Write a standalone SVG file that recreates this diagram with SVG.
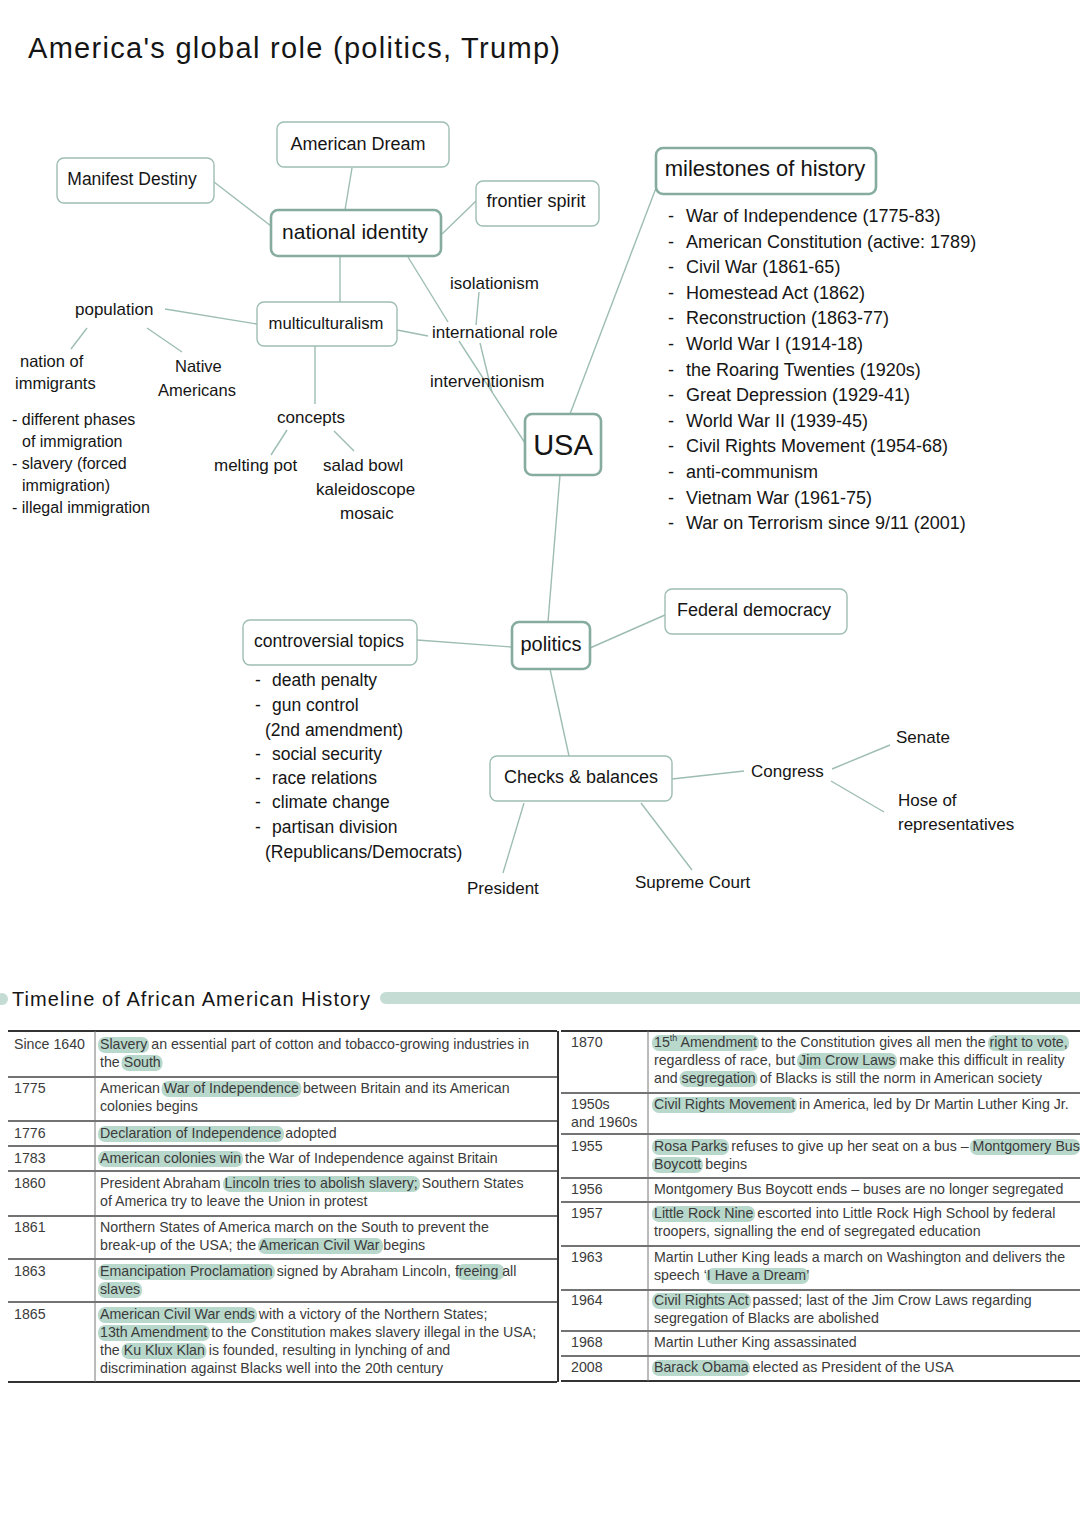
<svg xmlns="http://www.w3.org/2000/svg" width="1080" height="1527" viewBox="0 0 1080 1527">
<style>
.bg{fill:#fff}
.n{fill:#fff;stroke:#9dbdb3;stroke-width:1.4}
.nm{fill:#fff;stroke:#86ab9f;stroke-width:2.6}
.c{stroke:#9dbdb3;stroke-width:1.4;fill:none}
.h{font-family:"Liberation Sans",Arial,sans-serif;fill:#151515}
.mid{text-anchor:middle}
.t{font-family:"Liberation Sans",Arial,sans-serif;font-size:14.2px;fill:#3b3b3b}
.hl{fill:#b9d8cc}
.ln{stroke:#454545;stroke-width:1.3}
.lt{stroke:#333;stroke-width:2}
.vl{stroke:#777;stroke-width:1}
</style>
<rect class="bg" x="0" y="0" width="1080" height="1527"/>
<text class="h" x="28" y="58" font-size="29" textLength="532" lengthAdjust="spacing">America's global role (politics, Trump)</text>

<g id="connectors">
<line class="c" x1="214" y1="182" x2="271" y2="226"/>
<line class="c" x1="352" y1="168" x2="345" y2="210"/>
<line class="c" x1="476" y1="201" x2="442" y2="234"/>
<line class="c" x1="340" y1="256" x2="340" y2="302"/>
<line class="c" x1="408" y1="257" x2="448" y2="322"/>
<line class="c" x1="479" y1="292" x2="476" y2="325"/>
<line class="c" x1="397" y1="330" x2="428" y2="336"/>
<line class="c" x1="459" y1="341" x2="525" y2="443"/>
<line class="c" x1="480" y1="343" x2="492" y2="392"/>
<line class="c" x1="165" y1="309" x2="257" y2="324"/>
<line class="c" x1="87" y1="328" x2="71" y2="349"/>
<line class="c" x1="147" y1="328" x2="182" y2="352"/>
<line class="c" x1="315" y1="346" x2="315" y2="404"/>
<line class="c" x1="287" y1="430" x2="271" y2="455"/>
<line class="c" x1="334" y1="431" x2="354" y2="451"/>
<line class="c" x1="570" y1="414" x2="656" y2="188"/>
<line class="c" x1="560" y1="475" x2="548" y2="622"/>
<line class="c" x1="512" y1="647" x2="417" y2="640"/>
<line class="c" x1="590" y1="648" x2="665" y2="615"/>
<line class="c" x1="550" y1="669" x2="569" y2="756"/>
<line class="c" x1="672" y1="779" x2="744" y2="771"/>
<line class="c" x1="832" y1="769" x2="890" y2="745"/>
<line class="c" x1="831" y1="781" x2="884" y2="812"/>
<line class="c" x1="524" y1="803" x2="503" y2="873"/>
<line class="c" x1="641" y1="803" x2="692" y2="870"/>
</g>

<g id="american-dream"><rect class="n" x="277" y="122" width="172" height="45" rx="7"/><text class="h mid" x="358" y="150" font-size="18">American Dream</text></g>
<g id="manifest-destiny"><rect class="n" x="57" y="158" width="157" height="45" rx="7"/><text class="h mid" x="132" y="185" font-size="17.5">Manifest Destiny</text></g>
<g id="national-identity"><rect class="nm" x="271" y="210" width="170" height="46" rx="7"/><text class="h mid" x="355" y="239" font-size="21">national identity</text></g>
<g id="frontier-spirit"><rect class="n" x="476" y="181" width="123" height="45" rx="7"/><text class="h mid" x="536" y="207" font-size="18">frontier spirit</text></g>
<g id="milestones"><rect class="nm" x="656" y="148" width="220" height="46" rx="7"/><text class="h mid" x="765" y="176" font-size="22">milestones of history</text>
<g class="h" font-size="18">
<text x="668" y="222">-</text><text x="686" y="222">War of Independence (1775-83)</text>
<text x="668" y="248">-</text><text x="686" y="248">American Constitution (active: 1789)</text>
<text x="668" y="273">-</text><text x="686" y="273">Civil War (1861-65)</text>
<text x="668" y="299">-</text><text x="686" y="299">Homestead Act (1862)</text>
<text x="668" y="324">-</text><text x="686" y="324">Reconstruction (1863-77)</text>
<text x="668" y="350">-</text><text x="686" y="350">World War I (1914-18)</text>
<text x="668" y="376">-</text><text x="686" y="376">the Roaring Twenties (1920s)</text>
<text x="668" y="401">-</text><text x="686" y="401">Great Depression (1929-41)</text>
<text x="668" y="427">-</text><text x="686" y="427">World War II (1939-45)</text>
<text x="668" y="452">-</text><text x="686" y="452">Civil Rights Movement (1954-68)</text>
<text x="668" y="478">-</text><text x="686" y="478">anti-communism</text>
<text x="668" y="504">-</text><text x="686" y="504">Vietnam War (1961-75)</text>
<text x="668" y="529">-</text><text x="686" y="529">War on Terrorism since 9/11 (2001)</text>
</g></g>
<g id="multiculturalism"><rect class="n" x="257" y="302" width="140" height="44" rx="7"/><text class="h mid" x="326" y="329" font-size="16.7">multiculturalism</text></g>
<g id="usa"><rect class="nm" x="525" y="414" width="76" height="61" rx="7"/><text class="h mid" x="563" y="455" font-size="29">USA</text></g>
<g id="politics"><rect class="nm" x="512" y="622" width="78" height="47" rx="7"/><text class="h mid" x="551" y="651" font-size="20">politics</text></g>
<g id="federal-democracy"><rect class="n" x="665" y="589" width="182" height="45" rx="7"/><text class="h mid" x="754" y="616" font-size="18">Federal democracy</text></g>
<g id="controversial-topics"><rect class="n" x="243" y="620" width="174" height="45" rx="7"/><text class="h mid" x="329" y="647" font-size="17.5">controversial topics</text>
<g class="h" font-size="17.5">
<text x="255" y="686">-</text><text x="272" y="686">death penalty</text>
<text x="255" y="711">-</text><text x="272" y="711">gun control</text>
<text x="265" y="736">(2nd amendment)</text>
<text x="255" y="760">-</text><text x="272" y="760">social security</text>
<text x="255" y="784">-</text><text x="272" y="784">race relations</text>
<text x="255" y="808">-</text><text x="272" y="808">climate change</text>
<text x="255" y="833">-</text><text x="272" y="833">partisan division</text>
<text x="265" y="858">(Republicans/Democrats)</text>
</g></g>
<g id="checks-balances"><rect class="n" x="490" y="756" width="182" height="45" rx="7"/><text class="h mid" x="581" y="783" font-size="18">Checks &amp; balances</text></g>

<g id="isolationism"><text class="h" x="450" y="289" font-size="17">isolationism</text></g>
<g id="international-role"><text class="h" x="432" y="338" font-size="17">international role</text></g>
<g id="interventionism"><text class="h" x="430" y="387" font-size="17">interventionism</text></g>
<g id="population"><text class="h" x="75" y="315" font-size="17">population</text></g>
<g id="nation-of-immigrants"><text class="h" x="20" y="367" font-size="16.5">nation of</text><text class="h" x="15" y="389" font-size="16.5">immigrants</text>
<g class="h" font-size="16">
<text x="12" y="425">- different phases</text>
<text x="22" y="447">of immigration</text>
<text x="12" y="469">- slavery (forced</text>
<text x="22" y="491">immigration)</text>
<text x="12" y="513">- illegal immigration</text>
</g></g>
<g id="native-americans"><text class="h" x="175" y="372" font-size="16.5">Native</text><text class="h" x="158" y="396" font-size="16.5">Americans</text></g>
<g id="concepts"><text class="h" x="277" y="423" font-size="17">concepts</text></g>
<g id="melting-pot"><text class="h" x="214" y="471" font-size="17">melting pot</text></g>
<g id="salad-bowl"><text class="h" x="323" y="471" font-size="17">salad bowl</text><text class="h" x="316" y="495" font-size="17">kaleidoscope</text><text class="h" x="340" y="519" font-size="17">mosaic</text></g>
<g id="congress"><text class="h" x="751" y="777" font-size="17">Congress</text></g>
<g id="senate"><text class="h" x="896" y="743" font-size="17">Senate</text></g>
<g id="house"><text class="h" x="898" y="806" font-size="17">Hose of</text><text class="h" x="898" y="830" font-size="17">representatives</text></g>
<g id="president"><text class="h" x="467" y="894" font-size="17">President</text></g>
<g id="supreme-court"><text class="h" x="635" y="888" font-size="17">Supreme Court</text></g>

<g id="timeline-header">
<circle cx="2" cy="999" r="6" fill="#c5dcd5"/>
<text class="h" x="12" y="1006" font-size="20" textLength="358" lengthAdjust="spacing">Timeline of African American History</text>
<rect x="380" y="992" width="710" height="12" rx="6" fill="#c5dcd5"/>
</g>

<g id="highlights">
<rect class="hl" x="98" y="1037" width="51" height="16" rx="7"/>
<rect class="hl" x="121.5" y="1055" width="41" height="16" rx="7"/>
<rect class="hl" x="161.5" y="1081" width="140" height="16" rx="7"/>
<rect class="hl" x="98" y="1126" width="186" height="16" rx="7"/>
<rect class="hl" x="98" y="1151" width="145" height="16" rx="7"/>
<rect class="hl" x="223" y="1176" width="197" height="16" rx="7"/>
<rect class="hl" x="258" y="1238" width="125" height="16" rx="7"/>
<rect class="hl" x="98" y="1264" width="177" height="16" rx="7"/>
<rect class="hl" x="456.5" y="1264" width="48" height="16" rx="7"/>
<rect class="hl" x="98" y="1282" width="44" height="16" rx="7"/>
<rect class="hl" x="98" y="1307" width="159" height="16" rx="7"/>
<rect class="hl" x="98" y="1325" width="112" height="16" rx="7"/>
<rect class="hl" x="121.5" y="1343" width="85" height="16" rx="7"/>
<rect class="hl" x="652" y="1035" width="107" height="16" rx="7"/>
<rect class="hl" x="988" y="1035" width="81" height="16" rx="7"/>
<rect class="hl" x="797" y="1053" width="100" height="16" rx="7"/>
<rect class="hl" x="679.5" y="1071" width="78" height="16" rx="7"/>
<rect class="hl" x="652" y="1097" width="145" height="16" rx="7"/>
<rect class="hl" x="652" y="1139" width="77" height="16" rx="7"/>
<rect class="hl" x="970" y="1139" width="110" height="16" rx="7"/>
<rect class="hl" x="652" y="1157" width="51" height="16" rx="7"/>
<rect class="hl" x="652" y="1206" width="103" height="16" rx="7"/>
<rect class="hl" x="706" y="1268" width="103" height="16" rx="7"/>
<rect class="hl" x="652" y="1293" width="99" height="16" rx="7"/>
<rect class="hl" x="652" y="1360" width="98" height="16" rx="7"/>
</g>

<g id="table-lines">
<line class="lt" x1="8" y1="1031" x2="557" y2="1031"/>
<line class="ln" x1="8" y1="1077" x2="557" y2="1077"/>
<line class="ln" x1="8" y1="1121" x2="557" y2="1121"/>
<line class="ln" x1="8" y1="1146" x2="557" y2="1146"/>
<line class="ln" x1="8" y1="1171" x2="557" y2="1171"/>
<line class="ln" x1="8" y1="1216" x2="557" y2="1216"/>
<line class="ln" x1="8" y1="1259" x2="557" y2="1259"/>
<line class="ln" x1="8" y1="1302" x2="557" y2="1302"/>
<line class="lt" x1="8" y1="1382" x2="557" y2="1382"/>
<line class="vl" x1="95" y1="1031" x2="95" y2="1382"/>
<line class="lt" x1="558" y1="1031" x2="558" y2="1382"/>
<line class="lt" x1="561" y1="1031" x2="1080" y2="1031"/>
<line class="ln" x1="561" y1="1093" x2="1080" y2="1093"/>
<line class="ln" x1="561" y1="1134" x2="1080" y2="1134"/>
<line class="ln" x1="561" y1="1178" x2="1080" y2="1178"/>
<line class="ln" x1="561" y1="1202" x2="1080" y2="1202"/>
<line class="ln" x1="561" y1="1246" x2="1080" y2="1246"/>
<line class="ln" x1="561" y1="1290" x2="1080" y2="1290"/>
<line class="ln" x1="561" y1="1331" x2="1080" y2="1331"/>
<line class="ln" x1="561" y1="1356" x2="1080" y2="1356"/>
<line class="lt" x1="561" y1="1381" x2="1080" y2="1381"/>
<line class="vl" x1="648" y1="1031" x2="648" y2="1381"/>
</g>

<g id="table-left" class="t">
<text x="14" y="1049">Since 1640</text>
<text x="100" y="1049">Slavery an essential part of cotton and tobacco-growing industries in</text>
<text x="100" y="1067">the South</text>
<text x="14" y="1093">1775</text>
<text x="100" y="1093">American War of Independence between Britain and its American</text>
<text x="100" y="1111">colonies begins</text>
<text x="14" y="1138">1776</text>
<text x="100" y="1138">Declaration of Independence adopted</text>
<text x="14" y="1163">1783</text>
<text x="100" y="1163">American colonies win the War of Independence against Britain</text>
<text x="14" y="1188">1860</text>
<text x="100" y="1188">President Abraham Lincoln tries to abolish slavery; Southern States</text>
<text x="100" y="1206">of America try to leave the Union in protest</text>
<text x="14" y="1232">1861</text>
<text x="100" y="1232">Northern States of America march on the South to prevent the</text>
<text x="100" y="1250">break-up of the USA; the American Civil War begins</text>
<text x="14" y="1276">1863</text>
<text x="100" y="1276">Emancipation Proclamation signed by Abraham Lincoln, freeing all</text>
<text x="100" y="1294">slaves</text>
<text x="14" y="1319">1865</text>
<text x="100" y="1319">American Civil War ends with a victory of the Northern States;</text>
<text x="100" y="1337">13th Amendment to the Constitution makes slavery illegal in the USA;</text>
<text x="100" y="1355">the Ku Klux Klan is founded, resulting in lynching of and</text>
<text x="100" y="1373">discrimination against Blacks well into the 20th century</text>
</g>

<g id="table-right" class="t">
<text x="571" y="1047">1870</text>
<text x="654" y="1047">15<tspan font-size="9" dy="-6">th</tspan><tspan dy="6"> Amendment to the Constitution gives all men the right to vote,</tspan></text>
<text x="654" y="1065">regardless of race, but Jim Crow Laws make this difficult in reality</text>
<text x="654" y="1083">and segregation of Blacks is still the norm in American society</text>
<text x="571" y="1109">1950s</text>
<text x="571" y="1127">and 1960s</text>
<text x="654" y="1109">Civil Rights Movement in America, led by Dr Martin Luther King Jr.</text>
<text x="571" y="1151">1955</text>
<text x="654" y="1151">Rosa Parks refuses to give up her seat on a bus – Montgomery Bus</text>
<text x="654" y="1169">Boycott begins</text>
<text x="571" y="1194">1956</text>
<text x="654" y="1194">Montgomery Bus Boycott ends – buses are no longer segregated</text>
<text x="571" y="1218">1957</text>
<text x="654" y="1218">Little Rock Nine escorted into Little Rock High School by federal</text>
<text x="654" y="1236">troopers, signalling the end of segregated education</text>
<text x="571" y="1262">1963</text>
<text x="654" y="1262">Martin Luther King leads a march on Washington and delivers the</text>
<text x="654" y="1280">speech ‘I Have a Dream’</text>
<text x="571" y="1305">1964</text>
<text x="654" y="1305">Civil Rights Act passed; last of the Jim Crow Laws regarding</text>
<text x="654" y="1323">segregation of Blacks are abolished</text>
<text x="571" y="1347">1968</text>
<text x="654" y="1347">Martin Luther King assassinated</text>
<text x="571" y="1372">2008</text>
<text x="654" y="1372">Barack Obama elected as President of the USA</text>
</g>
</svg>
